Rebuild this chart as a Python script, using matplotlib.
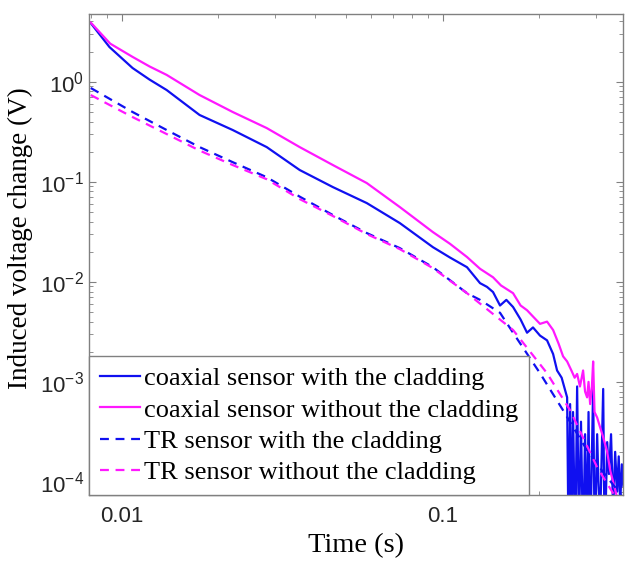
import matplotlib
matplotlib.use("Agg")
import matplotlib.pyplot as plt
from matplotlib.ticker import FixedLocator, FixedFormatter, LogLocator, NullFormatter

# ---- data ----
coax_clad_t = [0.0080, 0.00915, 0.0108, 0.0122, 0.01379, 0.01747, 0.02216, 0.02829, 0.03585,
               0.04547, 0.05803, 0.07358, 0.09326, 0.1054, 0.1191, 0.1308, 0.1375, 0.1436,
               0.1510, 0.1580, 0.1658, 0.1750, 0.1833, 0.1913, 0.2012, 0.2116, 0.2210, 0.2274,
               0.2350, 0.2444, 0.2470, 0.2497, 0.2523, 0.2550, 0.2590, 0.2626, 0.2660, 0.2700,
               0.2741, 0.2780, 0.2821, 0.2850, 0.2883, 0.2946, 0.2980, 0.3032, 0.3060, 0.3098,
               0.3166, 0.3200, 0.3258, 0.3300, 0.3350, 0.3401, 0.3450, 0.3499, 0.3540, 0.3576,
               0.3620, 0.3660, 0.3700]
coax_clad_v = [3.85, 2.22, 1.37, 1.05, 0.826, 0.465, 0.329, 0.222, 0.131,
               0.0885, 0.0612, 0.0386, 0.0222, 0.0175, 0.0140, 0.0097, 0.0089, 0.0079,
               0.0058, 0.0066, 0.0056, 0.0042, 0.0031, 0.0035, 0.0029, 0.0026, 0.0019, 0.0013,
               0.0011, 0.0007, 2e-5, 6e-4, 3e-5, 5e-4, 2e-5, 9e-4, 3e-5, 4e-4,
               2e-5, 3e-4, 3e-5, 5e-4, 2e-5, 9e-4, 2e-5, 3e-4, 1e-4, 4e-5,
               8.5e-4, 2e-5, 2.5e-4, 1.2e-4, 3e-4, 5e-5, 2e-4, 8e-5, 1.8e-4, 6e-5,
               1.5e-4, 9e-5, 1.3e-4]

coax_noclad_t = [0.0080, 0.0092, 0.0108, 0.0122, 0.01379, 0.01747, 0.02216, 0.02829, 0.03585,
                 0.04547, 0.05803, 0.07358, 0.09326, 0.1054, 0.1191, 0.1308, 0.1436, 0.1520,
                 0.1580, 0.1658, 0.1750, 0.1833, 0.1913, 0.2012, 0.2116, 0.2210, 0.2300, 0.2374,
                 0.2444, 0.2520, 0.2580, 0.2626, 0.2680, 0.2741, 0.2780, 0.2821, 0.2850, 0.2883,
                 0.2920, 0.2946, 0.2975, 0.3032, 0.3098, 0.3166, 0.3258, 0.3330, 0.3401, 0.3499,
                 0.3576]
coax_noclad_v = [3.9, 2.4, 1.77, 1.42, 1.17, 0.736, 0.498, 0.344, 0.222,
                 0.147, 0.097, 0.0558, 0.0314, 0.024, 0.0177, 0.0135, 0.0111, 0.0092,
                 0.0085, 0.0077, 0.0058, 0.0052, 0.0045, 0.0038, 0.0040, 0.0033, 0.0024, 0.0018,
                 0.0016, 0.0013, 0.0011, 0.0012, 0.0009, 0.0013, 0.0008, 0.0007, 0.0010, 0.0006,
                 0.0009, 0.0016, 0.0005, 0.00044, 0.00035, 0.00028, 0.0002, 0.00013, 0.0001, 0.00007,
                 0.00004]

tr_clad_t = [0.0080, 0.0108, 0.01379, 0.01747, 0.02216, 0.02829, 0.03585, 0.04547, 0.05803,
             0.07358, 0.09326, 0.1191, 0.1308, 0.1510, 0.1658, 0.2012, 0.2374, 0.2821,
             0.3258, 0.3576, 0.3700]
tr_clad_v = [0.865, 0.498, 0.329, 0.222, 0.157, 0.111, 0.071, 0.0465, 0.0307,
             0.0217, 0.0140, 0.0077, 0.0066, 0.0049, 0.0031, 0.00122, 0.00052, 0.000207,
             0.000111, 0.000077, 0.00006]

tr_noclad_t = [0.0080, 0.0108, 0.01379, 0.01747, 0.02216, 0.02829, 0.03585, 0.04547, 0.05803,
               0.07358, 0.09326, 0.1191, 0.1658, 0.2116, 0.2497, 0.3032, 0.3401, 0.3700]
tr_noclad_v = [0.736, 0.443, 0.300, 0.205, 0.147, 0.106, 0.0671, 0.0455, 0.0300,
               0.0212, 0.0137, 0.0077, 0.0033, 0.00122, 0.00052, 0.00014, 0.000077, 0.00004]

labels = ["coaxial sensor with the cladding",
          "coaxial sensor without the cladding",
          "TR sensor with the cladding",
          "TR sensor without the cladding"]
x_ticks = [0.01, 0.1]
x_tick_labels = ["0.01", "0.1"]

# ---- styling ----
plt.rcParams['font.family'] = ['Liberation Sans', 'DejaVu Sans']
plt.rcParams['mathtext.default'] = 'regular'
serif = ['Liberation Serif', 'DejaVu Serif']
blue = '#1010f0'
mag = '#ff18ff'
grey = '#808080'

fig = plt.figure(figsize=(6.25, 5.64), dpi=100)
ax = fig.add_axes([0.1424, 0.1223, 0.8544, 0.8529])

ax.plot(coax_clad_t, coax_clad_v, color=blue, lw=1.6, label=labels[0])
ax.plot(coax_noclad_t, coax_noclad_v, color=mag, lw=1.6, label=labels[1])
ax.plot(tr_clad_t, tr_clad_v, color=blue, lw=1.6, ls=(0, (4, 3)), label=labels[2])
ax.plot(tr_noclad_t, tr_noclad_v, color=mag, lw=1.6, ls=(0, (4, 3)), label=labels[3])

ax.set_xscale('log')
ax.set_yscale('log')
ax.set_xlim(0.0079, 0.365)
ax.set_ylim(7.4e-5, 4.75)

ax.xaxis.set_major_locator(FixedLocator(x_ticks))
ax.xaxis.set_major_formatter(FixedFormatter(x_tick_labels))
ax.xaxis.set_minor_locator(LogLocator(base=10, subs=range(2, 10), numticks=20))
ax.xaxis.set_minor_formatter(NullFormatter())
ax.yaxis.set_major_locator(LogLocator(base=10, numticks=20))
ax.yaxis.set_minor_locator(LogLocator(base=10, subs=range(2, 10), numticks=20))
ax.yaxis.set_minor_formatter(NullFormatter())

ax.tick_params(which='both', direction='in', top=True, right=True, color=grey,
               labelsize=16, labelcolor='#262626')
ax.tick_params(which='major', length=5, width=0.8)
ax.tick_params(which='minor', length=3, width=0.6)
ax.tick_params(axis='x', pad=8)
for s in ax.spines.values():
    s.set_color(grey)
    s.set_linewidth(1.0)

ax.set_xlabel("Time (s)", fontsize=20.5, family=serif, labelpad=4)
ax.set_ylabel("Induced voltage change (V)", fontsize=19.5, family=serif)
ax.yaxis.set_label_coords(-0.105, 0.534)

leg = ax.legend(loc='lower left', bbox_to_anchor=(0, 0), borderaxespad=0,
                prop={'family': serif, 'size': 19}, fancybox=False, framealpha=1,
                edgecolor=grey, handlelength=1.55, handletextpad=0.15,
                labelspacing=0.3, borderpad=0.4)
leg.get_frame().set_linewidth(1.0)

fig.savefig("out.png", dpi=100)
